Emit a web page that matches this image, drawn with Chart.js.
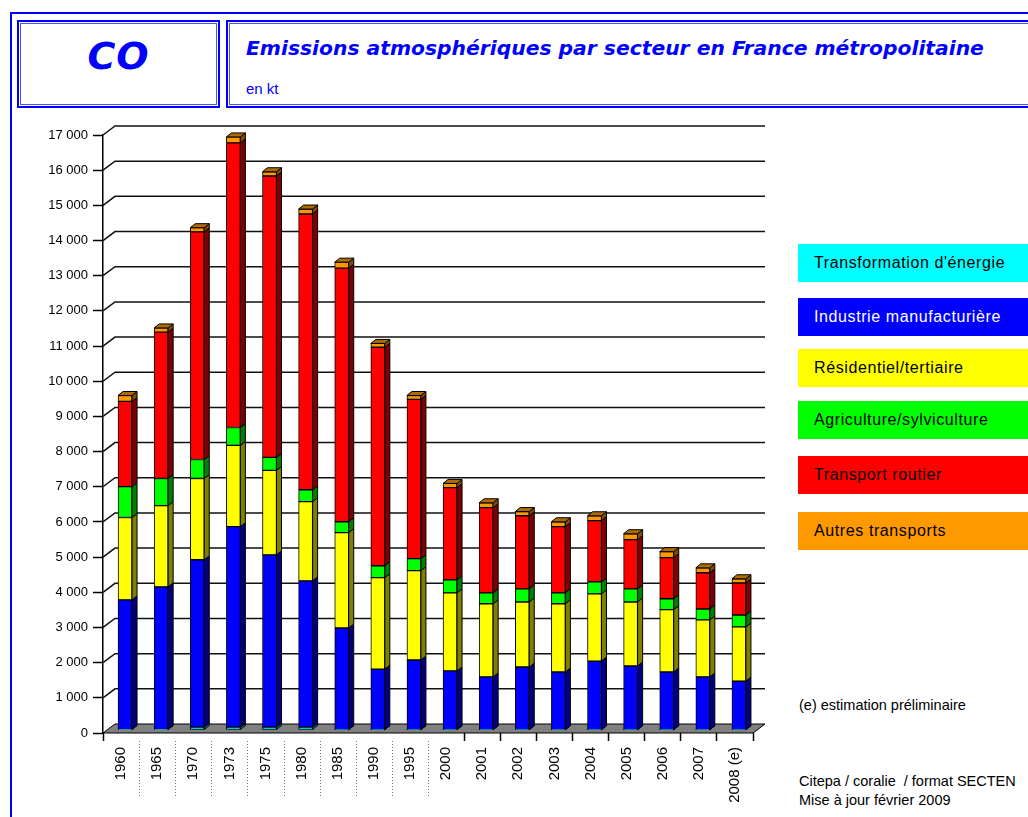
<!DOCTYPE html>
<html>
<head>
<meta charset="utf-8">
<script src="https://cdn.jsdelivr.net/npm/chart.js@4"></script>
<style>
  html, body { margin: 0; padding: 0; background: #fff; overflow: hidden; }
  body { width: 1028px; height: 817px; position: relative; font-family: "Liberation Sans", Arial, sans-serif; }
  .frame { position: absolute; left: 10px; top: 12px; width: 1040px; height: 830px; border: 2px solid #0000ff; }
  .box { position: absolute; border: 2px solid #0000ff; box-shadow: inset 0 0 0 1px #fff, inset 0 0 0 2px #5050ff; }
  #cobox { left: 17px; top: 20px; width: 199px; height: 84px; }
  #titlebox { left: 226px; top: 20px; width: 820px; height: 84px; }
  #co { position: absolute; left: 17px; top: 34px; width: 203px; text-align: center; color: #0000ff;
        font: oblique bold 38px "DejaVu Sans", Verdana, sans-serif; letter-spacing: 1px; }
  #title { position: absolute; left: 246px; top: 36px; color: #0000ff; white-space: nowrap;
           font: oblique bold 20.3px "DejaVu Sans", Verdana, sans-serif; }
  #unit { position: absolute; left: 246px; top: 80px; color: #0000ff; font: 15px "Liberation Sans", Arial, sans-serif; }
  #chart { position: absolute; left: 0; top: 115px; }
  .leg { position: absolute; left: 798px; width: 240px; height: 38px; box-sizing: border-box;
         padding-left: 16px; font: 16px "Liberation Sans", Arial, sans-serif; letter-spacing: 0.6px;
         line-height: 38px; white-space: nowrap; }
  .note { position: absolute; left: 799px; font: 14.5px "Liberation Sans", Arial, sans-serif; color: #000; white-space: nowrap; }
</style>
</head>
<body>
<div class="frame"></div>
<div class="box" id="cobox"></div>
<div class="box" id="titlebox"></div>
<div id="co">CO</div>
<div id="title">Emissions atmosphériques par secteur en France métropolitaine</div>
<div id="unit">en kt</div>
<canvas id="chart" width="790" height="702"></canvas>
<div id="legend"></div>
<div class="note" style="top:697px">(e) estimation préliminaire</div>
<div class="note" style="top:773px">Citepa / coralie&nbsp; / format SECTEN</div>
<div class="note" style="top:792px">Mise à jour février 2009</div>
<script>
const years = ['1960', '1965', '1970', '1973', '1975', '1980', '1985', '1990', '1995', '2000',
               '2001', '2002', '2003', '2004', '2005', '2006', '2007', '2008 (e)']

const sectors = ["Transformation d'énergie", 'Industrie manufacturière', 'Résidentiel/tertiaire',
                 'Agriculture/sylviculture', 'Transport routier', 'Autres transports']

// kt
const energie     = [20, 20, 80, 80, 80, 80, 10, 10, 10, 10, 10, 10, 10, 10, 10, 10, 10, 10]
const industrie   = [3680, 4050, 4760, 5700, 4900, 4160, 2890, 1720, 1980, 1670, 1500, 1780, 1640, 1950, 1810, 1640, 1500, 1380]
const residentiel = [2340, 2310, 2310, 2310, 2400, 2250, 2710, 2600, 2540, 2220, 2080, 1850, 1940, 1910, 1820, 1770, 1620, 1540]
const agriculture = [880, 770, 540, 510, 370, 340, 310, 340, 340, 370, 310, 370, 310, 340, 370, 310, 310, 340]
const routier     = [2420, 4160, 6470, 8090, 8000, 7840, 7210, 6210, 4530, 2620, 2420, 2080, 1880, 1740, 1400, 1170, 1030, 910]
const autres      = [170, 120, 120, 170, 120, 140, 170, 110, 110, 120, 140, 120, 140, 140, 170, 170, 140, 120]

const series = [energie, industrie, residentiel, agriculture, routier, autres]
const colors = ['#00ffff', '#0000ff', '#ffff00', '#00ff00', '#ff0000', '#ff9900']
const sideColors = ['#008080', '#000080', '#808000', '#008000', '#800000', '#804c00']
const topColor = '#b06a00'
const legendText = ['#000', '#fff', '#000', '#000', '#000', '#000']
const legendTops = [244, 298, 349, 401, 456, 512]

const fmt = v => String(v).replace(/\B(?=(\d{3})+(?!\d))/g, ' ')

// legend boxes
const legend = document.getElementById('legend')
sectors.forEach((name, i) => {
  const d = document.createElement('div')
  d.className = 'leg'
  d.style.top = legendTops[i] + 'px'
  d.style.background = colors[i]
  d.style.color = legendText[i]
  d.textContent = name
  legend.appendChild(d)
})

const wall = { x: 12, y: -9 }
const barShift = { x: 4, y: -3 }
const barDepth = { x: 5, y: -4 }

const threeD = {
  id: 'threeD',
  beforeDatasetsDraw(chart) {
    const { ctx, chartArea: a, scales: { y } } = chart
    ctx.save()
    // floor
    ctx.beginPath()
    ctx.moveTo(a.left, a.bottom)
    ctx.lineTo(a.right, a.bottom)
    ctx.lineTo(a.right + wall.x, a.bottom + wall.y)
    ctx.lineTo(a.left + wall.x, a.bottom + wall.y)
    ctx.closePath()
    ctx.fillStyle = '#808080'
    ctx.fill()
    ctx.strokeStyle = '#000'
    ctx.lineWidth = 1
    ctx.stroke()
    // back grid lines with the wall edge
    ctx.strokeStyle = '#111'
    ctx.lineWidth = 1.5
    y.ticks.forEach(t => {
      if (t.value === 0) return
      const py = y.getPixelForValue(t.value)
      ctx.beginPath()
      ctx.moveTo(a.left, py)
      ctx.lineTo(a.left + wall.x, py + wall.y)
      ctx.lineTo(a.right + wall.x, py + wall.y)
      ctx.stroke()
    })
    // dotted separators under the older years
    const x = chart.scales.x
    const half = (x.getPixelForValue(1) - x.getPixelForValue(0)) / 2
    ctx.strokeStyle = '#777'
    ctx.lineWidth = 1
    ctx.setLineDash([1, 2])
    for (let i = 1; i <= 9; i++) {
      const px = Math.round(x.getPixelForValue(i) - half) + 0.5
      ctx.beginPath()
      ctx.moveTo(px, a.bottom + 8)
      ctx.lineTo(px, a.bottom + 64)
      ctx.stroke()
    }
    ctx.restore()
    // bars sit a bit inside the depth
    ctx.save()
    ctx.translate(barShift.x, barShift.y)
  },
  afterDatasetsDraw(chart) {
    const { ctx } = chart
    const last = chart.data.datasets.length - 1
    ctx.lineWidth = 1
    ctx.strokeStyle = '#000'
    chart.data.datasets.forEach((ds, di) => {
      chart.getDatasetMeta(di).data.forEach(bar => {
        const { x, y, base, width } = bar.getProps(['x', 'y', 'base', 'width'])
        const l = x - width / 2, r = x + width / 2
        const top = Math.min(y, base), bot = Math.max(y, base)
        ctx.beginPath()
        ctx.moveTo(r, top)
        ctx.lineTo(r + barDepth.x, top + barDepth.y)
        ctx.lineTo(r + barDepth.x, bot + barDepth.y)
        ctx.lineTo(r, bot)
        ctx.closePath()
        ctx.fillStyle = sideColors[di]
        ctx.fill()
        ctx.stroke()
        if (di === last) {
          ctx.beginPath()
          ctx.moveTo(l, top)
          ctx.lineTo(l + barDepth.x, top + barDepth.y)
          ctx.lineTo(r + barDepth.x, top + barDepth.y)
          ctx.lineTo(r, top)
          ctx.closePath()
          ctx.fillStyle = topColor
          ctx.fill()
          ctx.stroke()
        }
      })
    })
    ctx.restore()
  }
}

new Chart(document.getElementById('chart'), {
  type: 'bar',
  data: {
    labels: years,
    datasets: series.map((values, i) => ({
      label: sectors[i],
      data: values,
      backgroundColor: colors[i],
      borderColor: '#000',
      borderWidth: 1,
      borderSkipped: false,
      barThickness: 14
    }))
  },
  options: {
    responsive: false,
    animation: false,
    layout: { padding: { top: 20, right: 37, left: 0, bottom: 0 } },
    plugins: { legend: { display: false }, tooltip: { enabled: false } },
    scales: {
      x: {
        stacked: true,
        afterFit: s => { s.height = 84 },
        border: { display: false },
        grid: {
          offset: true,
          drawOnChartArea: false,
          tickLength: 8,
          tickWidth: 1.5,
          tickColor: ctx => (ctx.index >= 1 && ctx.index <= 9) ? 'rgba(0,0,0,0)' : '#000'
        },
        ticks: {
          minRotation: 90, maxRotation: 90, autoSkip: false, padding: 6,
          color: '#000', font: { family: '"Liberation Sans", Arial, sans-serif', size: 15 }
        }
      },
      y: {
        stacked: true,
        min: 0, max: 17000,
        afterFit: s => { s.width = 103 },
        border: { display: true, color: '#000', width: 1.5 },
        grid: { drawOnChartArea: false, tickLength: 10, tickColor: '#000', tickWidth: 1.5 },
        ticks: {
          stepSize: 1000, padding: 5, color: '#000',
          font: { family: '"Liberation Sans", Arial, sans-serif', size: 13 },
          callback: v => fmt(v)
        }
      }
    }
  },
  plugins: [threeD]
})
</script>
</body>
</html>
